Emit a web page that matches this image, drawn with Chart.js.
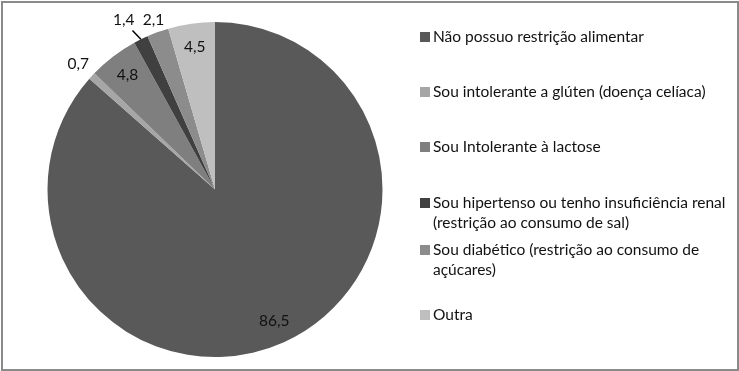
<!DOCTYPE html>
<html>
<head>
<meta charset="utf-8">
<script src="https://cdn.jsdelivr.net/npm/chart.js@4.4.1/dist/chart.umd.min.js"></script>
<style>
  body { margin: 0; background: #fff; }
  #wrap { position: relative; width: 739px; height: 371px; }
  #frame { position: absolute; left: 1px; top: 1px; width: 734px; height: 366px; border: 2px solid #8a8a8a; pointer-events: none; }
</style>
</head>
<body>
<div id="wrap">
  <canvas id="pieChart" width="739" height="371"></canvas>
  <div id="frame"></div>
</div>
<script>
const categories = [
    ['Não possuo restrição alimentar'],
    ['Sou intolerante a glúten (doença celíaca)'],
    ['Sou Intolerante à lactose'],
    ['Sou hipertenso ou tenho insuficiência renal', '(restrição ao consumo de sal)'],
    ['Sou diabético (restrição ao consumo de', 'açúcares)'],
    ['Outra']
];
const values = [86.5, 0.7, 4.8, 1.4, 2.1, 4.5];
const valueLabels = ['86,5', '0,7', '4,8', '1,4', '2,1', '4,5'];
const colors = ['#595959', '#a6a6a6', '#7f7f7f', '#404040', '#8c8c8c', '#bfbfbf'];

const FONT = '15.5px Lato, "Open Sans", sans-serif';

// legend layout (first line centre of each entry)
const legendY = [37, 92, 147, 203, 250, 315];

const labelsPlugin = {
    id: 'pieLabels',
    afterDraw(chart) {
        const ctx = chart.ctx;
        const arcs = chart.getDatasetMeta(0).data;
        ctx.save();
        ctx.font = FONT;
        ctx.fillStyle = '#111';
        ctx.textAlign = 'center';
        ctx.textBaseline = 'middle';
        const outsideFactor = [1.12, 1.11, 1.12, 1.15, 1.075, 1.12];
        const angleShift = [0, 0, 0, -0.035, 0, 0];
        arcs.forEach((arc, i) => {
            const p = arc.getProps(['x', 'y', 'startAngle', 'endAngle', 'outerRadius']);
            const mid = (p.startAngle + p.endAngle) / 2;
            const outside = values[i] < 3;
            const r = outside ? p.outerRadius * outsideFactor[i] : p.outerRadius * 0.86;
            const a = mid + angleShift[i];
            const lx = p.x + Math.cos(a) * r;
            const ly = p.y + Math.sin(a) * r;
            ctx.fillText(valueLabels[i], lx, ly);
            if (outside && outsideFactor[i] > 1.13) {
                ctx.strokeStyle = '#000';
                ctx.lineWidth = 1.5;
                ctx.beginPath();
                ctx.moveTo(p.x + Math.cos(mid) * p.outerRadius, p.y + Math.sin(mid) * p.outerRadius);
                ctx.lineTo(p.x + Math.cos(mid - 0.02) * p.outerRadius * 1.07, p.y + Math.sin(mid - 0.02) * p.outerRadius * 1.07);
                ctx.stroke();
            }
        });

        // legend
        ctx.textAlign = 'left';
        categories.forEach((lines, i) => {
            const y0 = legendY[i];
            ctx.fillStyle = colors[i];
            ctx.fillRect(420, y0 - 5, 10, 10);
            ctx.fillStyle = '#111';
            lines.forEach((t, j) => {
                ctx.fillText(t, 433, y0 + j * 20);
            });
        });
        ctx.restore();
    }
};

new Chart(document.getElementById('pieChart').getContext('2d'), {
    type: 'pie',
    data: {
        labels: categories,
        datasets: [{
            data: values,
            backgroundColor: colors,
            borderWidth: 0
        }]
    },
    options: {
        responsive: false,
        animation: false,
        layout: { padding: { left: 47, right: 356, top: 22, bottom: 14 } },
        plugins: {
            legend: { display: false },
            tooltip: { enabled: false }
        }
    },
    plugins: [labelsPlugin]
});
</script>
</body>
</html>
